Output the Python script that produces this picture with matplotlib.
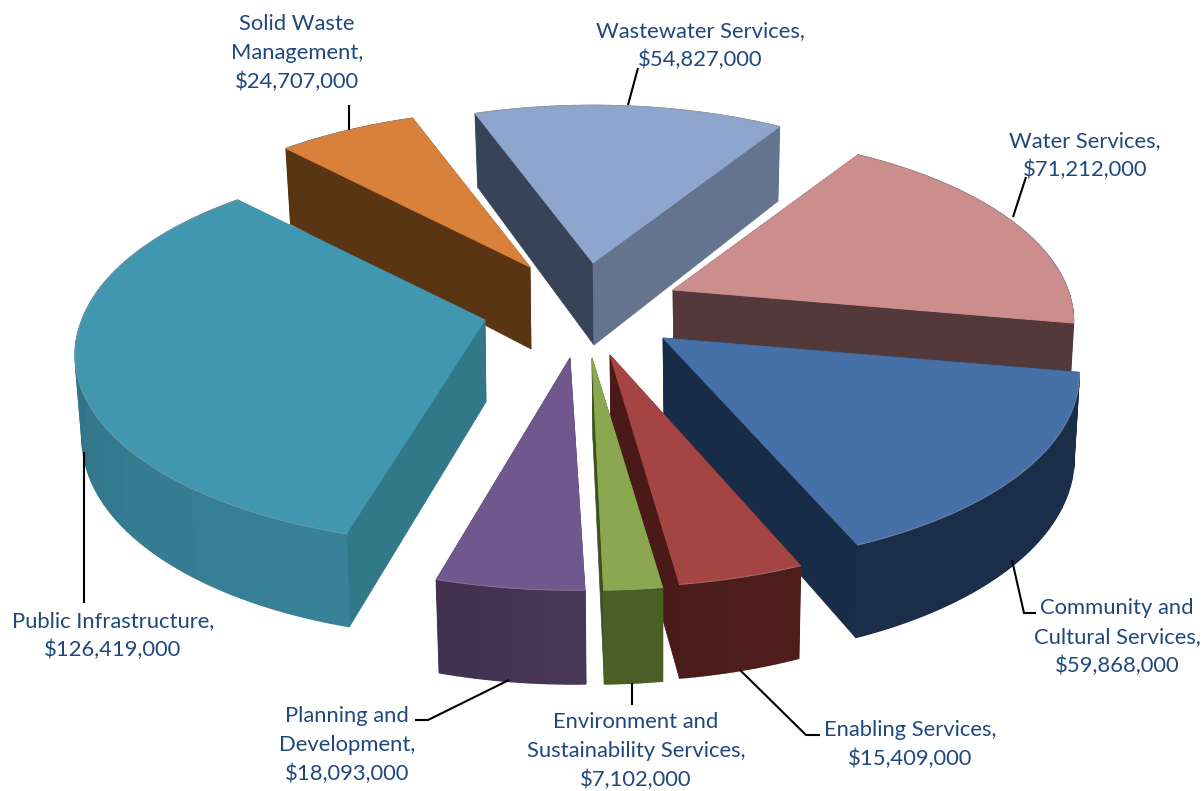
import numpy as np
import matplotlib
matplotlib.use("Agg")
import matplotlib.pyplot as plt
from matplotlib.patches import Polygon
from matplotlib.colors import to_rgb

#Budget by service area, clockwise from the top
names = ["Wastewater Services,", "Water Services,", "Community and\nCultural Services,",
         "Enabling Services,", "Environment and\nSustainability Services,",
         "Planning and\nDevelopment,", "Public Infrastructure,", "Solid Waste\nManagement,"]
values = [54827000, 71212000, 59868000, 15409000, 7102000, 18093000, 126419000, 24707000]

#Colours: top face, left wall, right wall, arc wall start and end
top_col = ["#8EA6CE", "#CC8E8C", "#4570A8", "#A54543", "#8BA850", "#70578E", "#4196B0", "#D9813A"]
left_col = ["#394358", "#533939", "#182C47", "#4A1A18", "#3D5020", "#463555", "#317888", "#5A3514"]
right_col = ["#64748E", "#533939", "#182C47", "#4A1A18", "#3D5020", "#463555", "#317888", "#5A3514"]
arc_a = ["#64748E", "#533939", "#1A2E49", "#4E1E1B", "#4B5E26", "#483757", "#388298", "#5A3514"]
arc_b = ["#64748E", "#533939", "#1A2E49", "#4A1C1A", "#4B5E26", "#413050", "#2C6A7C", "#5A3514"]

#Where each exploded wedge has its point, its size, and a small shear for the front ones
apex = [(593, 263), (673, 290), (663, 338), (610, 355), (592, 358), (570, 358), (485, 320), (530, 267)]
scale = [0.99, 0.98, 1.015, 1.03, 1.03, 1.03, 1.0, 0.985]
shear = [0, 0, 0.03, -0.005, 0, 0.015, -0.03, 0]
draw_order = [7, 0, 1, 6, 2, 5, 3, 4]

#Projection of the pie plane
a = 403.0
b = 186.0
p = 0.17
height = 82.0
first_angle = -20.0

#Label centres, one (x, y) per slice for the first line
label_pos = [(700, 31), (1085, 141), (1117, 608), (910, 730), (636, 722), (347, 716), (113, 621), (297, 24)]
line_step = 29.0
leaders = [[(638, 68), (628, 105)],
           [(1026, 177), (1013, 217)],
           [(1012, 560), (1024, 613), (1036, 613)],
           [(740, 670), (806, 735), (820, 735)],
           [(632, 683), (632, 705)],
           [(509, 680), (428, 720), (415, 720)],
           [(84, 452), (84, 603)],
           [(349, 105), (349, 130)]]

text_col = "#1F497D"
plt.rcParams['font.family'] = ['Lato', 'DejaVu Sans']


def project(i, ang):
    #top and bottom points of the wedge rim at the given clockwise angle
    t = np.radians(ang)
    x = scale[i] * np.sin(t)
    y = scale[i] * np.cos(t)
    w = 1 + p * y
    u = a * x / w
    v = -b * y / w
    u = u + shear[i] * np.maximum(v, 0)
    top = np.column_stack([apex[i][0] + u, apex[i][1] + v])
    bot = np.column_stack([apex[i][0] + 1 + 0.985 * u, apex[i][1] + v + height / w ** 0.7])
    return top, bot


def draw_arc_wall(i, top, bot):
    #arc wall in wide bands so the shade can run along it
    ca = np.array(to_rgb(arc_a[i]))
    cb = np.array(to_rgb(arc_b[i]))
    for k in range(0, 80, 5):
        c = ca + (cb - ca) * k / 75.0
        ax.add_patch(Polygon(np.vstack([top[k:k + 6], bot[k:k + 6][::-1]]), fc=c, ec=c, lw=1.0))


def draw_radial_walls(i, ap_top, ap_bot, top, bot):
    ax.add_patch(Polygon([ap_top, top[0], bot[0], ap_bot], fc=left_col[i], ec=left_col[i], lw=0.5))
    ax.add_patch(Polygon([ap_top, top[-1], bot[-1], ap_bot], fc=right_col[i], ec=right_col[i], lw=0.5))


fig = plt.figure(figsize=(12.02, 7.91), dpi=100)
ax = fig.add_axes([0, 0, 1, 1])
ax.set_xlim(0, 1202)
ax.set_ylim(791, 0)
ax.axis('off')

total = float(sum(values))
sweep = np.array(values) / total * 360.0
start = first_angle + np.concatenate([[0], np.cumsum(sweep)[:-1]])

for i in draw_order:
    angs = np.linspace(start[i], start[i] + sweep[i], 81)
    top, bot = project(i, angs)
    ap_top = np.array(apex[i], dtype=float)
    ap_bot = ap_top + [1, height]

    #wedges at the back show their radial walls, those at the front their rim
    if np.cos(np.radians(start[i] + sweep[i] / 2)) > 0:
        draw_arc_wall(i, top, bot)
        draw_radial_walls(i, ap_top, ap_bot, top, bot)
    else:
        draw_radial_walls(i, ap_top, ap_bot, top, bot)
        draw_arc_wall(i, top, bot)

    #top face
    ax.add_patch(Polygon(np.vstack([ap_top, top]), fc=top_col[i], ec=top_col[i], lw=0.6))
    ax.plot(top[:, 0], top[:, 1], color="#9A9A9A", lw=0.7, alpha=0.5)

for line in leaders:
    pts = np.array(line)
    ax.plot(pts[:, 0], pts[:, 1], color="black", lw=1.5, solid_capstyle='butt', solid_joinstyle='miter')

for i in range(len(values)):
    lines = names[i].split("\n") + ["${:,}".format(values[i])]
    for n, s in enumerate(lines):
        ax.text(label_pos[i][0], label_pos[i][1] + n * line_step, s, color=text_col, fontsize=15.8,
                ha='center', va='center')

fig.savefig("out.png", dpi=100)
